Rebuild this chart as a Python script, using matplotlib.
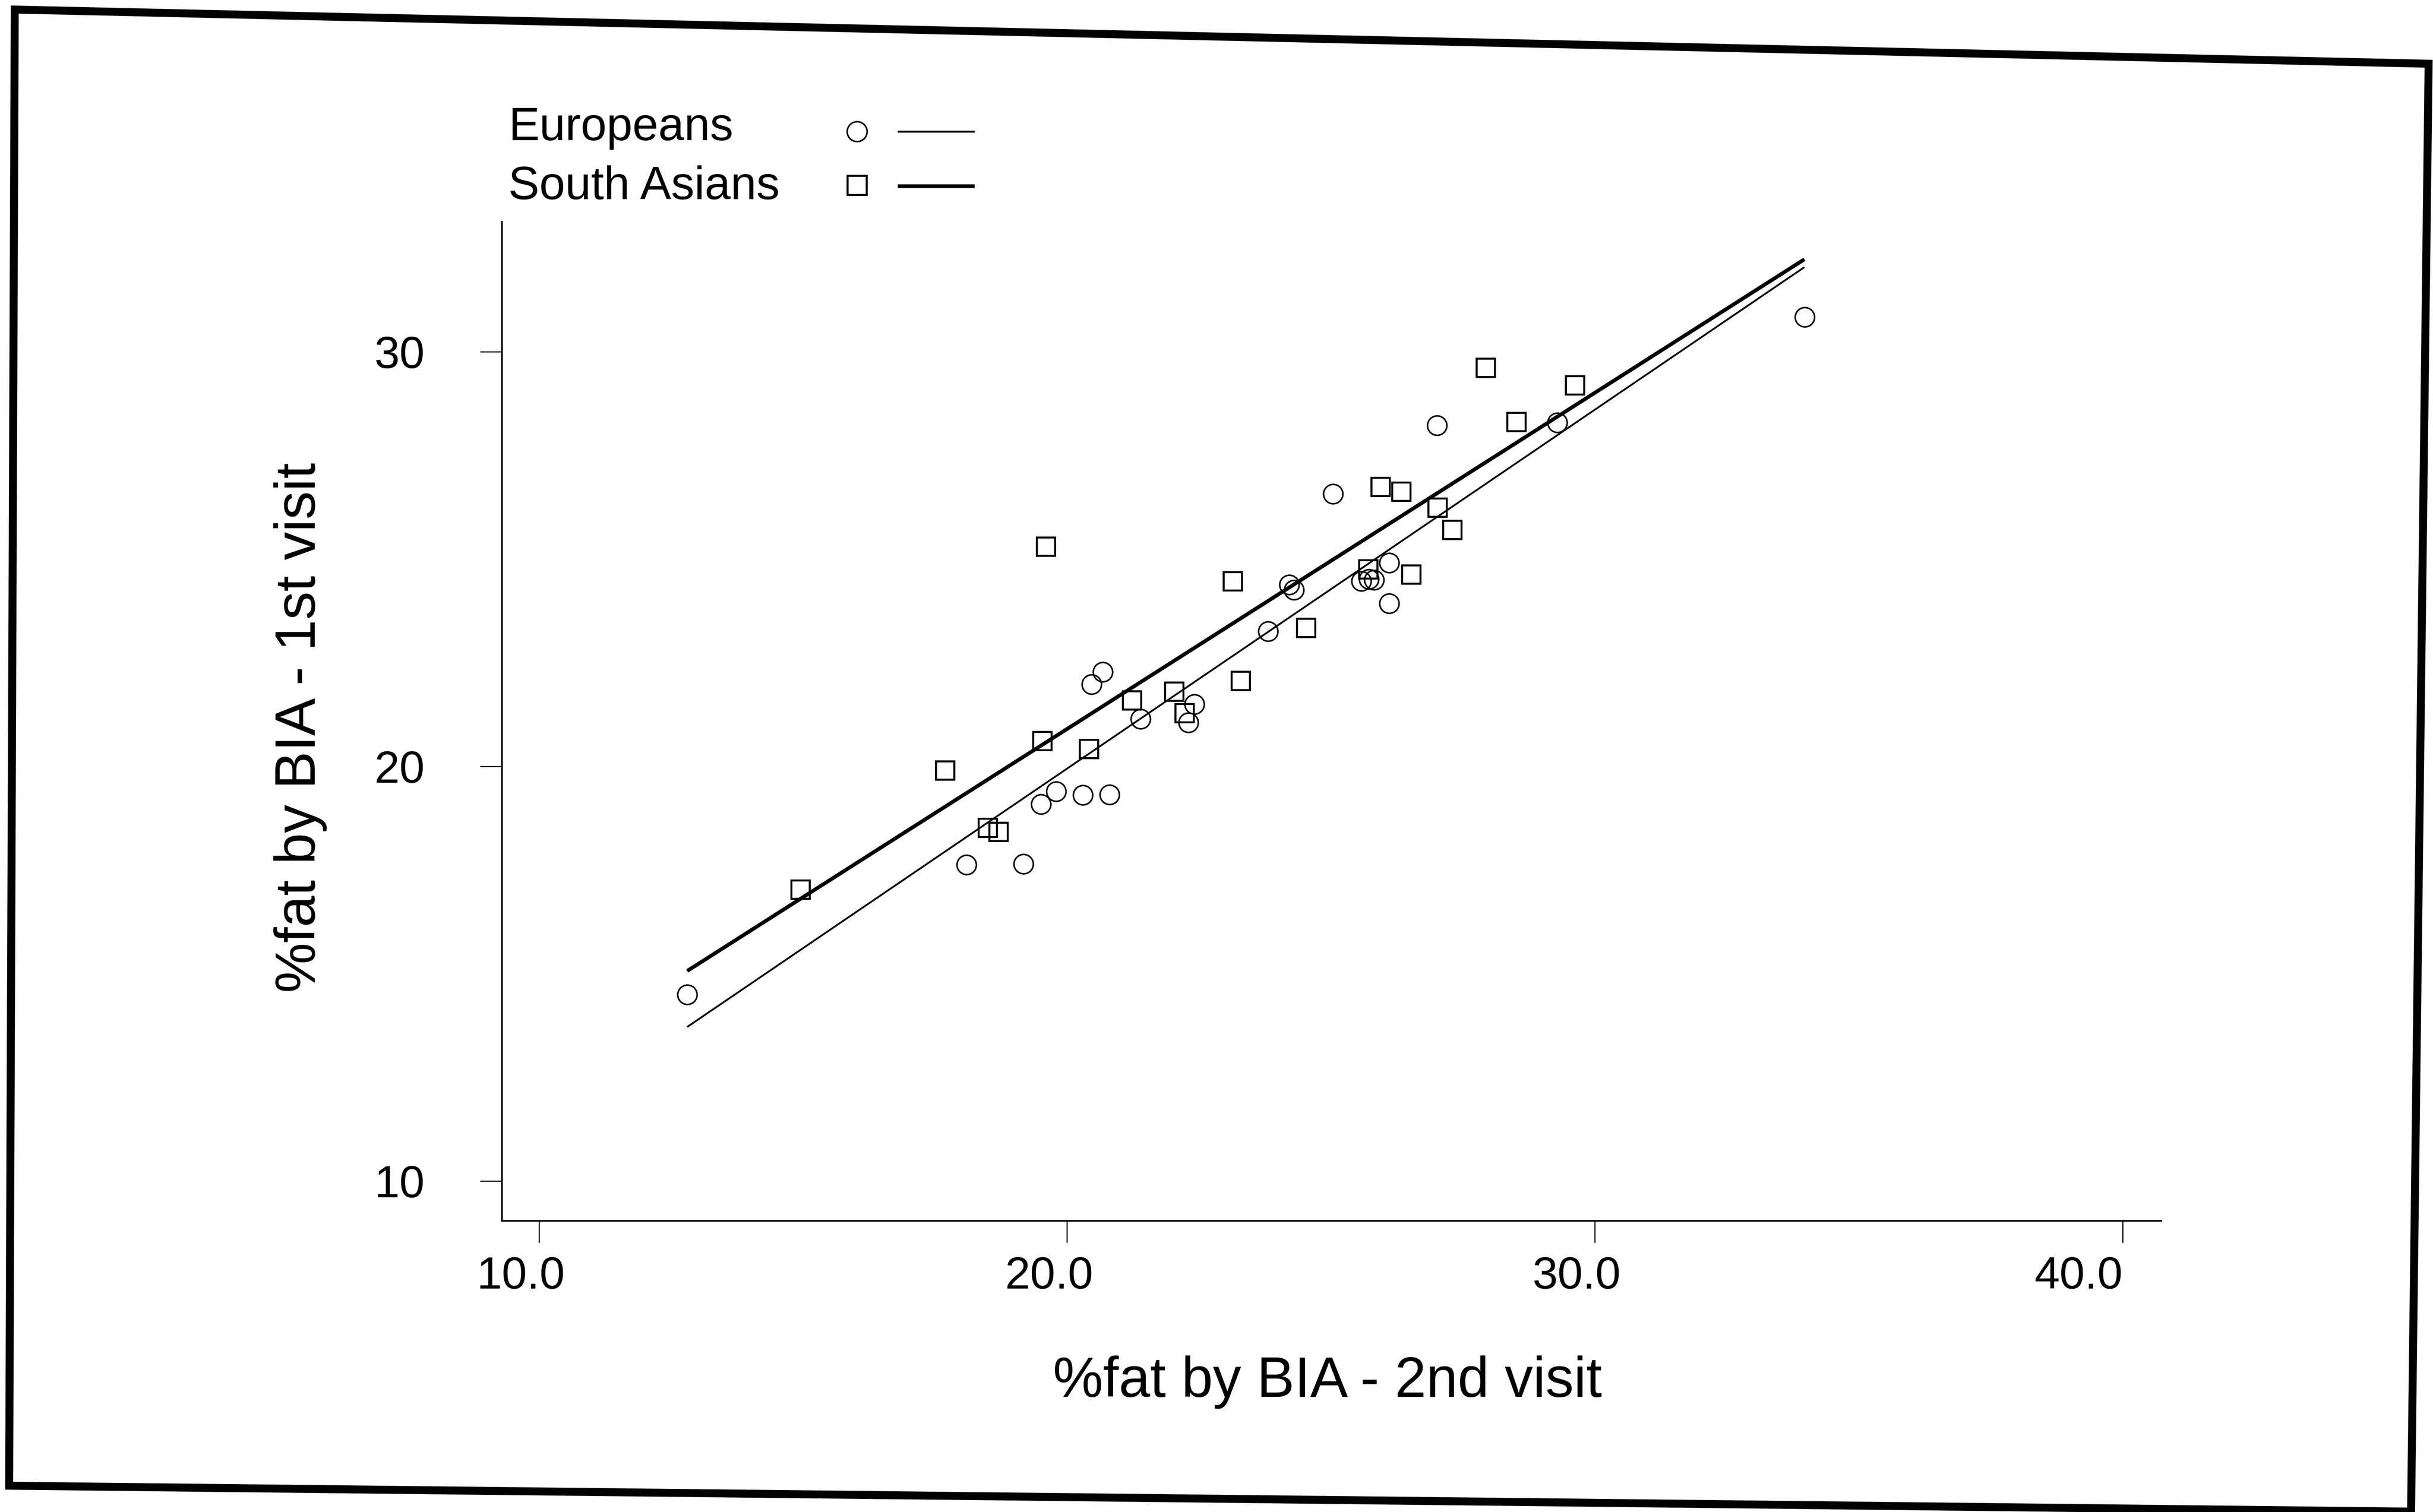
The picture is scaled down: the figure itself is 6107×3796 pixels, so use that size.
import matplotlib

matplotlib.use("Agg")
import matplotlib.pyplot as plt
import matplotlib.transforms as mtransforms
from matplotlib.lines import Line2D
from matplotlib.patches import Polygon

plt.rcParams["font.family"] = ["Liberation Sans", "DejaVu Sans"]

# %fat by BIA, 2nd visit (x) against 1st visit (y)
euro_x = [12.81, 18.10, 19.18, 19.51, 19.80, 20.30, 20.81, 20.47, 20.68, 21.40, 22.42, 22.30,
          23.81, 24.21, 24.30, 25.04, 25.58, 25.72, 25.82, 26.11, 26.11, 27.01, 29.29, 33.98]
euro_y = [14.50, 17.63, 17.65, 19.09, 19.40, 19.31, 19.32, 21.98, 22.28, 21.15, 21.50, 21.06,
          23.26, 24.38, 24.26, 26.57, 24.47, 24.52, 24.50, 24.91, 23.93, 28.23, 28.29, 30.84]

asian_x = [14.95, 17.69, 18.50, 18.70, 19.53, 19.60, 20.42, 21.23, 22.03, 22.23, 23.14,
           23.29, 24.53, 25.71, 25.94, 26.33, 26.52, 27.02, 27.30, 27.93, 28.51, 29.62]
asian_y = [17.04, 19.91, 18.52, 18.43, 20.62, 25.31, 20.43, 21.60, 21.81, 21.29, 24.47,
           22.07, 23.35, 24.76, 26.75, 26.63, 24.63, 26.25, 25.71, 29.62, 28.31, 29.20]

# regression lines, read at both ends
fit_x = [12.81, 33.97]
euro_fit_y = [13.72, 32.04]
asian_fit_y = [15.07, 32.23]

x_ticks = [10, 20, 30, 40]
x_tick_labels = ["10.0", "20.0", "30.0", "40.0"]
y_ticks = [10, 20, 30]
y_tick_labels = ["10", "20", "30"]

group_labels = ["Europeans", "South Asians"]

W, H = 6107, 3796
fig = plt.figure(figsize=(W / 200, H / 200), dpi=200)
ax = fig.add_axes([0.2063, 0.1926, 0.6820, 0.6607])

ax.plot(fit_x, euro_fit_y, color="black", lw=1.6, solid_capstyle="butt")
ax.plot(fit_x, asian_fit_y, color="black", lw=3.4, solid_capstyle="butt")
ax.plot(euro_x, euro_y, linestyle="none", marker="o", ms=17.5, mfc="none", mec="black", mew=1.4)
ax.plot(asian_x, asian_y, linestyle="none", marker="s", ms=16.5, mfc="none", mec="black", mew=1.8)

ax.set_xlim(9.30, 40.73)
ax.set_ylim(9.045, 33.135)
ax.set_xticks(x_ticks)
ax.set_xticklabels(x_tick_labels)
ax.set_yticks(y_ticks)
ax.set_yticklabels(y_tick_labels)

for side in ["top", "right"]:
    ax.spines[side].set_visible(False)
for side in ["left", "bottom"]:
    ax.spines[side].set_linewidth(1.6)

ax.tick_params(axis="both", direction="out", length=19.8, width=1.0, labelsize=41)
ax.tick_params(axis="x", pad=12)
ax.tick_params(axis="y", pad=50)

# the old package set the x labels a little left of their ticks, the last one flush right
labels = ax.get_xticklabels()
shift = mtransforms.ScaledTranslation(-0.225, 0, fig.dpi_scale_trans)
for lab in labels[:-1]:
    lab.set_transform(lab.get_transform() + shift)
labels[-1].set_horizontalalignment("right")

ax.set_xlabel("%fat by BIA - 2nd visit", fontsize=51)
ax.xaxis.label.set_verticalalignment("top")
ax.xaxis.set_label_coords(0.4975, -0.135)
ax.set_ylabel("%fat by BIA - 1st visit", fontsize=51)
ax.yaxis.label.set_verticalalignment("center")
ax.yaxis.set_label_coords(-0.1215, 0.4936)

# legend: label, then marker, then line sample
fig.text(0.2090, 0.9073, group_labels[0], fontsize=42, va="baseline")
fig.text(0.2090, 0.8683, group_labels[1], fontsize=42, va="baseline")
fig.add_artist(Line2D([0.3522], [0.9131], transform=fig.transFigure, linestyle="none",
                      marker="o", ms=18, mfc="none", mec="black", mew=1.4))
fig.add_artist(Line2D([0.3522], [0.8775], transform=fig.transFigure, linestyle="none",
                      marker="s", ms=17, mfc="none", mec="black", mew=1.8))
fig.add_artist(Line2D([0.3689, 0.4005], [0.9131, 0.9131], transform=fig.transFigure,
                      color="black", lw=1.8, solid_capstyle="butt"))
fig.add_artist(Line2D([0.3689, 0.4005], [0.8770, 0.8770], transform=fig.transFigure,
                      color="black", lw=3.4, solid_capstyle="butt"))

# outer box of the scanned page
corners = [(37, 24), (6096, 160), (6052, 3795), (23, 3730)]
frame = Polygon([(x / W, 1 - y / H) for x, y in corners], closed=True, fill=False,
                lw=7.2, edgecolor="black", joinstyle="miter", transform=fig.transFigure)
fig.add_artist(frame)

fig.savefig("out.png", dpi=200, facecolor="white")
